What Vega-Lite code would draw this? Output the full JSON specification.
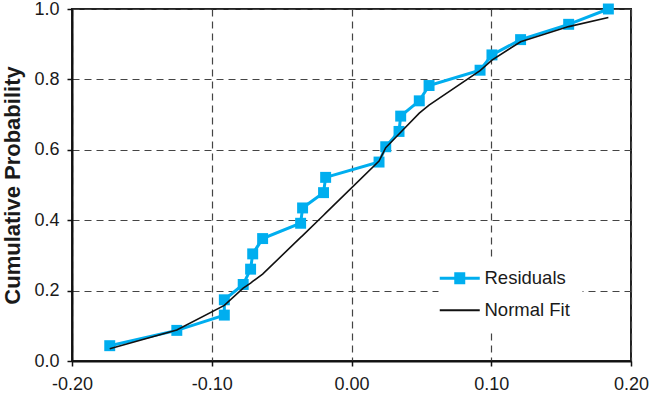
{
  "$schema": "https://vega.github.io/schema/vega-lite/v6.json",
  "width": 559,
  "height": 352,
  "autosize": {"type": "none"},
  "padding": {"left": 72, "top": 9, "right": 20, "bottom": 35},
  "background": "white",
  "config": {
    "font": "Liberation Sans",
    "view": {"stroke": "#222", "strokeWidth": 2},
    "axis": {
      "domainColor": "#111",
      "domainWidth": 2,
      "tickColor": "#111",
      "tickSize": 5,
      "tickWidth": 1.5,
      "grid": true,
      "gridColor": "#444",
      "gridDash": [7, 5],
      "gridWidth": 1.2,
      "labelFont": "Liberation Sans",
      "labelFontSize": 18,
      "labelColor": "#1a1a1a"
    }
  },
  "datasets": {
    "residuals": [
      {"series": "Residuals", "x": -0.173, "p": 0.0435},
      {"series": "Residuals", "x": -0.125, "p": 0.0870},
      {"series": "Residuals", "x": -0.091, "p": 0.1304},
      {"series": "Residuals", "x": -0.091, "p": 0.1739},
      {"series": "Residuals", "x": -0.0775, "p": 0.2174},
      {"series": "Residuals", "x": -0.0722, "p": 0.2609},
      {"series": "Residuals", "x": -0.0707, "p": 0.3043},
      {"series": "Residuals", "x": -0.0636, "p": 0.3478},
      {"series": "Residuals", "x": -0.0364, "p": 0.3913},
      {"series": "Residuals", "x": -0.035, "p": 0.4348},
      {"series": "Residuals", "x": -0.020, "p": 0.4783},
      {"series": "Residuals", "x": -0.0185, "p": 0.5217},
      {"series": "Residuals", "x": 0.0197, "p": 0.5652},
      {"series": "Residuals", "x": 0.0245, "p": 0.6087},
      {"series": "Residuals", "x": 0.034, "p": 0.6522},
      {"series": "Residuals", "x": 0.0352, "p": 0.6957},
      {"series": "Residuals", "x": 0.0485, "p": 0.7391},
      {"series": "Residuals", "x": 0.0555, "p": 0.7826},
      {"series": "Residuals", "x": 0.092, "p": 0.8261},
      {"series": "Residuals", "x": 0.1005, "p": 0.8696},
      {"series": "Residuals", "x": 0.121, "p": 0.9130},
      {"series": "Residuals", "x": 0.1554, "p": 0.9565},
      {"series": "Residuals", "x": 0.1838, "p": 1.0}
    ],
    "fit": [
      {"series": "Normal Fit", "x": -0.173, "p": 0.035},
      {"series": "Normal Fit", "x": -0.125, "p": 0.088},
      {"series": "Normal Fit", "x": -0.091, "p": 0.158},
      {"series": "Normal Fit", "x": -0.0775, "p": 0.207},
      {"series": "Normal Fit", "x": -0.0722, "p": 0.221},
      {"series": "Normal Fit", "x": -0.0707, "p": 0.226},
      {"series": "Normal Fit", "x": -0.0636, "p": 0.247},
      {"series": "Normal Fit", "x": -0.0364, "p": 0.351},
      {"series": "Normal Fit", "x": -0.035, "p": 0.356},
      {"series": "Normal Fit", "x": -0.020, "p": 0.414},
      {"series": "Normal Fit", "x": -0.0185, "p": 0.420},
      {"series": "Normal Fit", "x": 0.0197, "p": 0.568},
      {"series": "Normal Fit", "x": 0.0245, "p": 0.606},
      {"series": "Normal Fit", "x": 0.034, "p": 0.645},
      {"series": "Normal Fit", "x": 0.0352, "p": 0.650},
      {"series": "Normal Fit", "x": 0.0485, "p": 0.704},
      {"series": "Normal Fit", "x": 0.0555, "p": 0.727},
      {"series": "Normal Fit", "x": 0.092, "p": 0.825},
      {"series": "Normal Fit", "x": 0.1005, "p": 0.855},
      {"series": "Normal Fit", "x": 0.121, "p": 0.907},
      {"series": "Normal Fit", "x": 0.1554, "p": 0.950},
      {"series": "Normal Fit", "x": 0.1838, "p": 0.976}
    ]
  },
  "encoding": {
    "x": {
      "field": "x",
      "type": "quantitative",
      "scale": {"domain": [-0.2, 0.2], "nice": false, "zero": false},
      "axis": {
        "title": null,
        "values": [-0.2, -0.1, 0, 0.1, 0.2],
        "labelExpr": "replace(format(datum.value, '.2f'), '\u2212', '-')",
        "labelFlush": false,
        "labelPadding": 9
      }
    },
    "y": {
      "field": "p",
      "type": "quantitative",
      "scale": {"domain": [0, 1], "nice": false},
      "axis": {
        "title": "Cumulative Probability",
        "titleFont": "Liberation Sans",
        "titleFontSize": 22,
        "titleFontWeight": "bold",
        "titleColor": "#1a1a1a",
        "titlePadding": 9,
        "values": [0, 0.2, 0.4, 0.6, 0.8, 1.0],
        "format": ".1f",
        "labelFlush": false,
        "labelPadding": 8
      }
    },
    "color": {
      "field": "series",
      "type": "nominal",
      "scale": {"domain": ["Residuals", "Normal Fit"], "range": ["#00AEEF", "#111111"]},
      "legend": {
        "title": null,
        "orient": "none",
        "legendX": 366.5,
        "legendY": 248,
        "padding": 12,
        "fillColor": "white",
        "strokeColor": null,
        "symbolSize": 1600,
        "symbolType": "M-1,0H1",
        "symbolStrokeWidth": 3,
        "labelFont": "Liberation Sans",
        "labelFontSize": 18.5,
        "labelColor": "#1a1a1a",
        "labelOffset": 15.5,
        "rowPadding": 12,
        "encode": {
          "symbols": {
            "update": {
              "shape": {"signal": "datum.value === 'Residuals' ? 'M-1,0H1M-0.2,-0.22H0.2V0.22H-0.2Z' : 'M-1,0H1'"},
              "fill": {"signal": "datum.value === 'Residuals' ? '#00AEEF' : 'transparent'"},
              "strokeWidth": {"signal": "datum.value === 'Residuals' ? 3 : 1.8"},
              "opacity": {"value": 1}
            }
          }
        }
      }
    }
  },
  "layer": [
    {
      "data": {"name": "residuals"},
      "mark": {
        "type": "line",
        "strokeWidth": 3,
        "point": {"shape": "square", "size": 120, "filled": true, "opacity": 1}
      },
      "encoding": {"order": {"field": "p", "type": "quantitative"}}
    },
    {
      "data": {"name": "fit"},
      "mark": {"type": "line", "strokeWidth": 1.6},
      "encoding": {"order": {"field": "p", "type": "quantitative"}}
    }
  ]
}
